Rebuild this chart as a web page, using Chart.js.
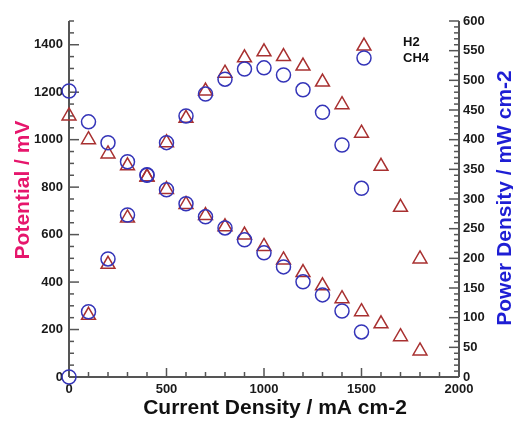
<!DOCTYPE html>
<html>
<head>
<meta charset="utf-8">
<script src="https://cdn.jsdelivr.net/npm/chart.js@4/dist/chart.umd.min.js"></script>
<style>
  html, body { margin: 0; padding: 0; background: #fff; }
  canvas { display: block; }
</style>
</head>
<body>
<canvas id="fuelCell" width="513" height="426"></canvas>
<script>
// Current density steps (mA cm-2)
const currentH2 = [0, 100, 200, 300, 400, 500, 600, 700, 800, 900, 1000, 1100, 1200, 1300, 1400, 1500, 1600, 1700, 1800];
const currentH2Power = [100, 200, 300, 400, 500, 600, 700, 800, 900, 1000, 1100, 1200, 1300, 1400, 1500, 1600, 1700, 1800];
const currentCH4 = [0, 100, 200, 300, 400, 500, 600, 700, 800, 900, 1000, 1100, 1200, 1300, 1400, 1500];

// Cell potential (mV)
const potentialH2 = [1100, 1000, 940, 890, 843, 790, 727, 680, 633, 598, 550, 493, 440, 384, 330, 275, 224, 170, 110];
const potentialCH4 = [1205, 1075, 987, 907, 852, 789, 730, 675, 628, 578, 523, 464, 401, 346, 278, 190];

// Power density (mW cm-2)
const powerH2 = [104, 190, 268, 337, 395, 436, 482, 512, 538, 548, 540, 524, 497, 459, 411, 355, 286, 199];
const powerCH4 = [0, 110, 199, 273, 340, 395, 440, 477, 502, 519, 521, 509, 484, 446, 391, 318];

const potentialTicks = [0, 200, 400, 600, 800, 1000, 1200, 1400];
const powerTicks = [0, 50, 100, 150, 200, 250, 300, 350, 400, 450, 500, 550, 600];
const currentTicks = [0, 500, 1000, 1500, 2000];

const FONT = '"Liberation Sans", Arial, Helvetica, sans-serif';
const RED = 'rgb(168, 48, 48)';
const BLUE = 'rgb(52, 52, 184)';

const pairs = (xs, ys) => xs.map((x, i) => ({ x: x, y: ys[i] }));

// axis lines with inward ticks, rotated titles and the small legend
const axisDecor = {
  id: 'axisDecor',
  beforeDatasetsDraw(chart) {
    const { ctx, chartArea: area, scales } = chart;
    const x = scales.x, yL = scales.y, yR = scales.y1;
    ctx.save();
    ctx.strokeStyle = '#555';
    ctx.lineWidth = 1.5;

    const tick = (x0, y0, x1, y1) => {
      ctx.beginPath();
      ctx.moveTo(x0, y0);
      ctx.lineTo(x1, y1);
      ctx.stroke();
    };

    for (let v = 0; v <= 1500; v += 50) {
      const py = yL.getPixelForValue(v);
      tick(area.left, py, area.left + (v % 200 === 0 ? 10 : 5), py);
    }
    for (let v = 0; v <= 600; v += 10) {
      const py = yR.getPixelForValue(v);
      tick(area.right, py, area.right - (v % 50 === 0 ? 10 : 5), py);
    }
    for (let v = 0; v <= 2000; v += 100) {
      const px = x.getPixelForValue(v);
      tick(px, area.bottom, px, area.bottom - (v % 500 === 0 ? 9 : 5));
    }

    ctx.lineWidth = 2;
    tick(area.left, area.top, area.left, area.bottom);
    tick(area.right, area.top, area.right, area.bottom);
    tick(area.left, area.bottom, area.right, area.bottom);
    ctx.restore();
  },
  afterDraw(chart) {
    const { ctx } = chart;
    ctx.save();

    // titles
    ctx.font = 'bold 21px ' + FONT;
    ctx.textAlign = 'center';
    ctx.textBaseline = 'middle';
    ctx.fillStyle = '#111';
    ctx.fillText('Current Density / mA cm-2', 275, 408);

    ctx.save();
    ctx.translate(23, 190);
    ctx.rotate(-Math.PI / 2);
    ctx.fillStyle = 'rgb(230, 22, 108)';
    ctx.fillText('Potential / mV', 0, 0);
    ctx.restore();

    ctx.save();
    ctx.translate(505, 198);
    ctx.rotate(-Math.PI / 2);
    ctx.fillStyle = 'rgb(30, 30, 212)';
    ctx.fillText('Power Density / mW cm-2', 0, 0);
    ctx.restore();

    // legend
    ctx.lineWidth = 1.5;
    ctx.strokeStyle = RED;
    const tx = 364, ty = 46, r = 8;
    ctx.beginPath();
    ctx.moveTo(tx, ty - r);
    ctx.lineTo(tx + r * Math.sin(2 * Math.PI / 3), ty + r / 2);
    ctx.lineTo(tx - r * Math.sin(2 * Math.PI / 3), ty + r / 2);
    ctx.closePath();
    ctx.stroke();
    ctx.strokeStyle = BLUE;
    ctx.beginPath();
    ctx.arc(364, 58, 7, 0, Math.PI * 2);
    ctx.stroke();

    ctx.font = 'bold 13px ' + FONT;
    ctx.textAlign = 'left';
    ctx.fillStyle = '#111';
    ctx.fillText('H2', 403, 42);
    ctx.fillText('CH4', 403, 58);
    ctx.restore();
  }
};

const tickFont = { family: FONT, size: 13, weight: 'bold' };
const plainLabel = v => String(v);

const marker = (style, radius, color) => ({
  pointStyle: style,
  pointRadius: radius,
  pointHoverRadius: radius,
  borderColor: color,
  backgroundColor: 'transparent',
  borderWidth: 1.5,
  clip: false
});

const ctx = document.getElementById('fuelCell').getContext('2d');
new Chart(ctx, {
  type: 'scatter',
  data: {
    datasets: [
      { label: 'CH4 potential', data: pairs(currentCH4, potentialCH4), yAxisID: 'y', ...marker('circle', 7, BLUE) },
      { label: 'CH4 power', data: pairs(currentCH4, powerCH4), yAxisID: 'y1', ...marker('circle', 7, BLUE) },
      { label: 'H2 potential', data: pairs(currentH2, potentialH2), yAxisID: 'y', ...marker('triangle', 8, RED) },
      { label: 'H2 power', data: pairs(currentH2Power, powerH2), yAxisID: 'y1', ...marker('triangle', 8, RED) }
    ]
  },
  options: {
    responsive: false,
    animation: false,
    layout: { padding: { top: 21, left: 0, right: 0, bottom: 0 } },
    plugins: {
      legend: { display: false },
      tooltip: { enabled: false }
    },
    scales: {
      x: {
        type: 'linear',
        min: 0,
        max: 2000,
        grid: { display: false, drawTicks: false },
        border: { display: false },
        ticks: { font: tickFont, color: '#1a1a1a', padding: 5, callback: plainLabel },
        afterBuildTicks: s => { s.ticks = currentTicks.map(v => ({ value: v })); },
        afterFit: s => { s.height = 49; }
      },
      y: {
        type: 'linear',
        position: 'left',
        min: 0,
        max: 1500,
        grid: { display: false, drawTicks: false },
        border: { display: false },
        ticks: { font: tickFont, color: '#1a1a1a', padding: 6, callback: plainLabel },
        afterBuildTicks: s => { s.ticks = potentialTicks.map(v => ({ value: v })); },
        afterFit: s => { s.width = 69; }
      },
      y1: {
        type: 'linear',
        position: 'right',
        min: 0,
        max: 600,
        grid: { display: false, drawTicks: false },
        border: { display: false },
        ticks: { font: tickFont, color: '#1a1a1a', padding: 4, callback: plainLabel },
        afterBuildTicks: s => { s.ticks = powerTicks.map(v => ({ value: v })); },
        afterFit: s => { s.width = 54; }
      }
    }
  },
  plugins: [axisDecor]
});
</script>
</body>
</html>
